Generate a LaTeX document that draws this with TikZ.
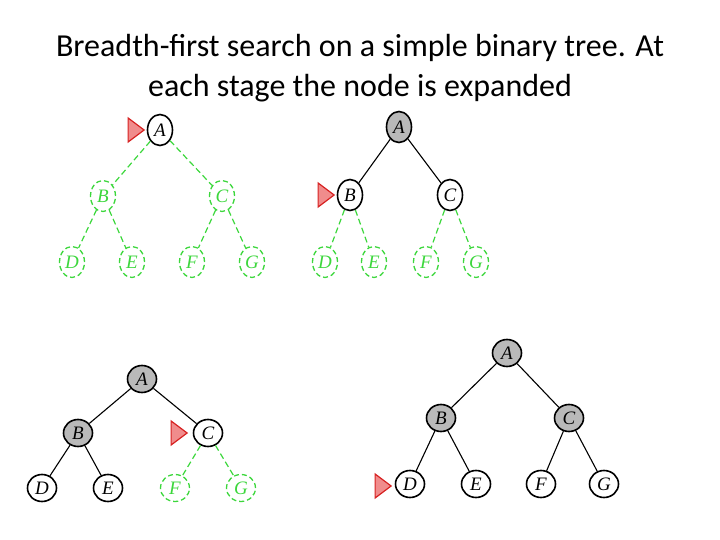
\documentclass[tikz,border=0pt]{standalone}
\usepackage{fontspec}
\setmainfont{Carlito}
\newfontfamily\letterfont{Liberation Serif}
\usetikzlibrary{shapes.geometric}
\definecolor{grn}{RGB}{60,215,60}
\definecolor{gry}{RGB}{185,185,185}
\definecolor{mkfill}{RGB}{240,140,140}
\definecolor{mkdraw}{RGB}{215,35,35}
\tikzset{
  tn/.style={ellipse, draw=black, line width=1.6pt, fill=white, inner sep=0pt,
    minimum width=25pt, minimum height=31pt, font=\letterfont\itshape\fontsize{19}{19}\selectfont},
  wide/.style={minimum width=29pt, minimum height=27pt},
  expd/.style={tn, fill=gry},
  unseen/.style={tn, draw=grn, dashed, dash pattern=on 5pt off 3pt, line width=1.3pt, text=grn},
  solidedge/.style={draw=black, line width=1.1pt},
  greenedge/.style={draw=grn, line width=1.2pt, dash pattern=on 6pt off 3.5pt},
  marker/.style={isosceles triangle, isosceles triangle stretches, shape border rotate=0,
    fill=mkfill, draw=mkdraw, line width=1.2pt, inner sep=0pt, minimum width=24pt, minimum height=16pt},
}
\begin{document}
\begin{tikzpicture}[x=1pt,y=-1pt]
\useasboundingbox (0,0) rectangle (720,540);
\node[font=\fontsize{32}{40}\selectfont, align=center] (title) at (360,68)
  {Breadth-first search on a simple binary tree. At\\each stage the node is expanded};

% ---- tree 1
\node[tn] (a1) at (160,130) {A};
\node[unseen] (b1) at (103,196) {B};
\node[unseen] (c1) at (222,196) {C};
\node[unseen] (d1) at (72,262) {D};
\node[unseen] (e1) at (132,262) {E};
\node[unseen] (f1) at (192,262) {F};
\node[unseen] (g1) at (252,262) {G};
\node[marker, anchor=east] (m1) at ([xshift=-1pt]a1.west) {};
\draw[greenedge] (a1) -- (b1);
\draw[greenedge] (a1) -- (c1);
\draw[greenedge] (b1) -- (d1);
\draw[greenedge] (b1) -- (e1);
\draw[greenedge] (c1) -- (f1);
\draw[greenedge] (c1) -- (g1);

% ---- tree 2
\node[expd] (a2) at (399,127) {A};
\node[tn] (b2) at (350,195) {B};
\node[tn] (c2) at (450,195) {C};
\node[unseen] (d2) at (325,262) {D};
\node[unseen] (e2) at (374,262) {E};
\node[unseen] (f2) at (426,262) {F};
\node[unseen] (g2) at (476,262) {G};
\node[marker, anchor=east] (m2) at ([xshift=-1pt]b2.west) {};
\draw[solidedge] (a2) -- (b2);
\draw[solidedge] (a2) -- (c2);
\draw[greenedge] (b2) -- (d2);
\draw[greenedge] (b2) -- (e2);
\draw[greenedge] (c2) -- (f2);
\draw[greenedge] (c2) -- (g2);

% ---- tree 3
\node[expd, wide] (a3) at (142,379) {A};
\node[expd, wide] (b3) at (78,433) {B};
\node[tn, wide] (c3) at (208,433) {C};
\node[tn, wide] (d3) at (42,488) {D};
\node[tn, wide] (e3) at (108,488) {E};
\node[unseen, wide] (f3) at (175,488) {F};
\node[unseen, wide] (g3) at (241,488) {G};
\node[marker, anchor=east] (m3) at ([xshift=-4pt]c3.west) {};
\draw[solidedge] (a3) -- (b3);
\draw[solidedge] (a3) -- (c3);
\draw[solidedge] (b3) -- (d3);
\draw[solidedge] (b3) -- (e3);
\draw[greenedge] (c3) -- (f3);
\draw[greenedge] (c3) -- (g3);

% ---- tree 4
\node[expd, wide] (a4) at (507,353) {A};
\node[expd, wide] (b4) at (441,418) {B};
\node[expd, wide] (c4) at (569,418) {C};
\node[tn, wide] (d4) at (410,484) {D};
\node[tn, wide] (e4) at (476,484) {E};
\node[tn, wide] (f4) at (541,484) {F};
\node[tn, wide] (g4) at (604,484) {G};
\node[marker, anchor=east] (m4) at ([xshift=-2pt,yshift=-2pt]d4.west) {};
\draw[solidedge] (a4) -- (b4);
\draw[solidedge] (a4) -- (c4);
\draw[solidedge] (b4) -- (d4);
\draw[solidedge] (b4) -- (e4);
\draw[solidedge] (c4) -- (f4);
\draw[solidedge] (c4) -- (g4);
\end{tikzpicture}
\end{document}
